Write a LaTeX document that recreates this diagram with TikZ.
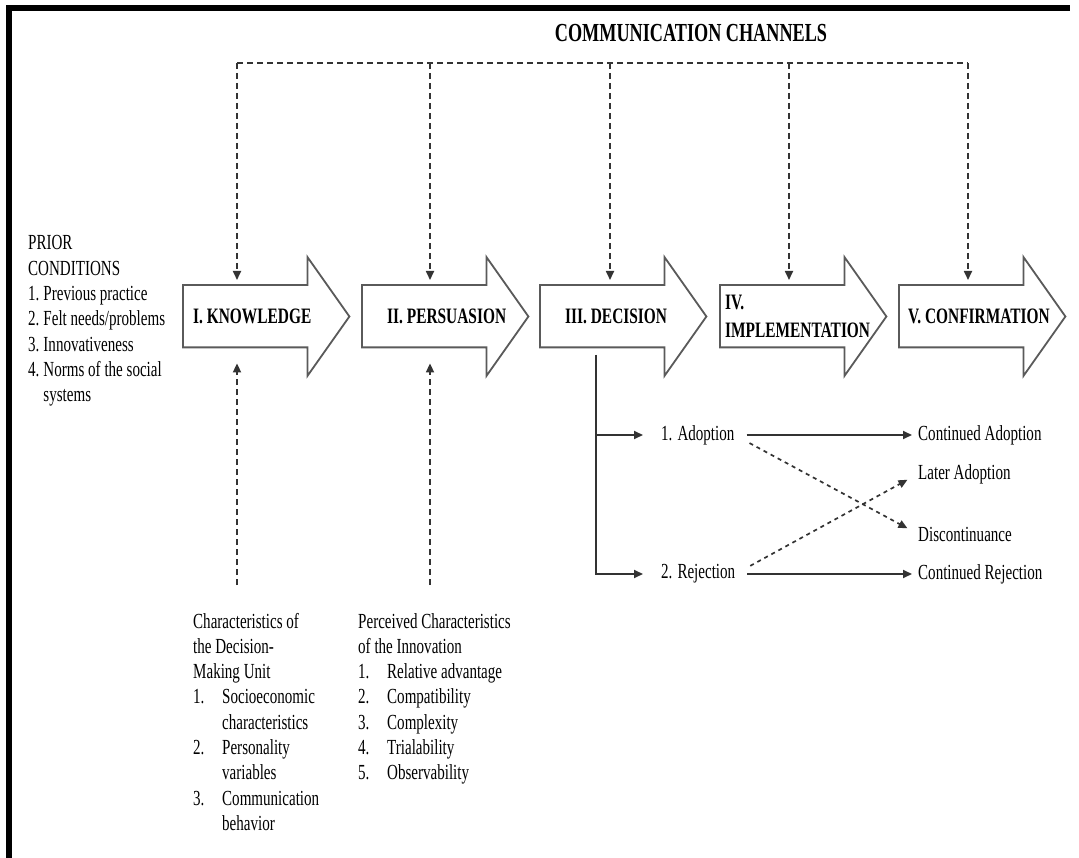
\documentclass[tikz,border=0pt]{standalone}
\usepackage{fontspec}
\setmainfont[FakeStretch=0.7]{Liberation Serif}
\usetikzlibrary{arrows.meta,positioning}
\definecolor{InkGray}{HTML}{333333}
\definecolor{EdgeGray}{HTML}{5A5A5A}

\begin{document}
\begin{tikzpicture}[x=1pt,y=-1pt,>={Triangle[length=9pt,width=8pt]},
  stagebody/.style={anchor=north west,minimum width=124pt,minimum height=62pt,inner sep=0pt},
  stageline/.style={draw=EdgeGray,line width=1.8pt,line join=miter,fill=white},
  stagelabel/.style={anchor=west,align=left,inner sep=0pt,font=\fontsize{22}{28}\selectfont\bfseries},
  channel/.style={->,InkGray,line width=1.7pt,dash pattern=on 6pt off 4pt},
  flow/.style={->,InkGray,line width=1.8pt},
  switchline/.style={->,InkGray,line width=1.7pt,dash pattern=on 4pt off 4pt},
  outcome/.style={anchor=west,inner sep=0pt},
  listblock/.style={anchor=base west,inner sep=0pt},
  every node/.style={font=\fontsize{21.5}{25.3}\selectfont}]
  \useasboundingbox (0,0) rectangle (1079,858);
  % frame bars on the left and top edges
  \fill[black] (6,5) rectangle (12,858);
  \fill[black] (6,5) rectangle (1070,11);
  \node[font=\fontsize{26}{30}\selectfont\bfseries] (cchan) at (691,33) {COMMUNICATION CHANNELS};
  \foreach \nm/\lx/\tx/\lab in {know/183/193/{I. KNOWLEDGE},pers/362/387/{II. PERSUASION},
      dec/540/565/{III. DECISION},impl/720/725/{IV.\\IMPLEMENTATION},conf/899/908/{V. CONFIRMATION}}{
    \node[stagebody] (\nm) at (\lx,285) {};
    \draw[stageline] (\nm.north west) -- (\nm.north east) -- ++(0,-28) -- ++(42,59.5)
      -- ++(-42,59.5) -- (\nm.south east) -- (\nm.south west) -- cycle;
    \node[stagelabel] (\nm-lbl) at (\tx,316) {\lab};
  }
  \foreach \nm/\cx in {know/237,pers/430,dec/610,impl/789,conf/968}
    \coordinate (top-\nm) at (\cx,63);
  \draw[channel,-] (top-know) -- (top-conf);
  \foreach \nm in {know,pers,dec,impl,conf}
    \draw[channel,shorten >=5pt] (top-\nm) -- (top-\nm |- \nm.north);
  \node[listblock] (prior) at (28,250) {\begin{tabular}[t]{@{}l@{\hspace{4pt}}l@{}}
    \multicolumn{2}{@{}l@{}}{PRIOR}\\
    \multicolumn{2}{@{}l@{}}{CONDITIONS}\\
    1. & Previous practice\\
    2. & Felt needs/problems\\
    3. & Innovativeness\\
    4. & Norms of the social\\
       & systems
  \end{tabular}};
  \node[listblock] (dmu) at (193,628) {\begin{tabular}[t]{@{}p{29pt}@{}l@{}}
    \multicolumn{2}{@{}l@{}}{Characteristics of}\\
    \multicolumn{2}{@{}l@{}}{the Decision-}\\
    \multicolumn{2}{@{}l@{}}{Making Unit}\\
    1. & Socioeconomic\\
       & characteristics\\
    2. & Personality\\
       & variables\\
    3. & Communication\\
       & behavior
  \end{tabular}};
  \node[listblock] (innov) at (358,628) {\begin{tabular}[t]{@{}p{29pt}@{}l@{}}
    \multicolumn{2}{@{}l@{}}{Perceived Characteristics}\\
    \multicolumn{2}{@{}l@{}}{of the Innovation}\\
    1. & Relative advantage\\
    2. & Compatibility\\
    3. & Complexity\\
    4. & Trialability\\
    5. & Observability
  \end{tabular}};
  \draw[channel,shorten <=25pt,shorten >=16pt] (dmu.north -| top-know) -- (top-know |- know.south);
  \draw[channel,shorten <=25pt,shorten >=16pt] (innov.north -| top-pers) -- (top-pers |- pers.south);
  \coordinate (stem) at (596,355);
  \node[outcome] (adopt) at (661,435) {1. Adoption};
  \node[outcome] (reject) at (661,574) {2. Rejection};
  \draw[flow,shorten >=18pt] (stem) |- (adopt.west);
  \draw[flow,shorten >=18pt] (stem) |- (reject.west);
  \node[outcome] (keep) at (918,435) {Continued Adoption};
  \node[outcome] (later) at (918,474) {Later Adoption};
  \node[outcome] (drop) at (918,534) {Discontinuance};
  \node[outcome] (stay) at (918,574) {Continued Rejection};
  \draw[flow,shorten <=12pt,shorten >=6pt] (adopt.east) -- (keep.west);
  \draw[flow,shorten <=12pt,shorten >=6pt] (reject.east) -- (stay.west);
  \draw[switchline,shorten <=17pt,shorten >=12pt] (adopt.east) -- (drop.west);
  \draw[switchline,shorten <=17pt,shorten >=12pt] (reject.east) -- (later.west);
\end{tikzpicture}
\end{document}
